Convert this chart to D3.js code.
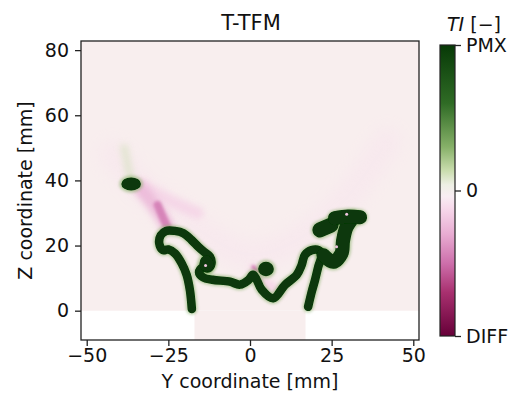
<!DOCTYPE html>
<html lang="en">
<head>
<meta charset="utf-8">
<title>T-TFM</title>
<script src="https://cdn.jsdelivr.net/npm/d3@7"></script>
<style>
body { margin: 0; background: #fff; }
text { font-family: "DejaVu Sans", sans-serif; fill: #111; }
</style>
</head>
<body>
<svg id="chart" width="512" height="395"></svg>
<script>
// axis ranges (mm)
var yDomain = [-51.75, 51.75],
    zDomain = [-9, 82.8];
var yTicks = [-50, -25, 0, 25, 50],
    zTicks = [0, 20, 40, 60, 80];
var cbTicks = [1, 0, -1],
    cbLabels = ["PMX", "0", "DIFF"];

// colormap stops, t from DIFF (0) to PMX (1)
var cmapT = [0, 0.15, 0.25, 0.35, 0.44, 0.48, 0.52, 0.57, 0.65, 0.8, 1];
var cmapC = ["#660038", "#a8306f", "#cd6fab", "#e8acd2", "#f7d9eb", "#f8edf3",
             "#edefe4", "#c8dcac", "#86b068", "#2f6b25", "#073907"];

var channelHalf = 17;   // |Y| < 17 mm continues below Z = 0

// green strands, [Y, Z] in mm
var strandMain = [[-17.8,0.5],[-18.4,6.3],[-19.4,11.0],[-20.9,14.5],[-23.0,17.6],[-25.0,18.8],
  [-26.7,18.6],[-27.8,20.7],[-27.3,23.2],[-25.7,24.5],[-23.0,24.5],[-20.4,23.8],[-17.9,21.7],
  [-15.8,19.6],[-14.0,18.0],[-12.3,16.6],[-11.8,14.5],[-12.8,13.0],[-14.6,13.2],[-15.6,11.8],
  [-14.3,10.2],[-11.5,9.5],[-6.1,8.9],[-3.1,8.0],[-0.5,9.4],[0.9,11.0],[2.0,9.6],[3.6,6.4],
  [7.1,3.8],[10.7,7.9],[14.3,11.0],[15.8,14.0],[16.8,17.1],[18.9,18.6],[20.9,18.6],
  [21.9,17.2],[20.9,13.5],[19.9,9.4],[18.9,5.8],[17.8,1.2]];
var strandColumn = [[22.5,17.0],[25.5,15.0],[28.0,17.5],[28.5,21.5],[29.5,25.5],[31.5,28.5]];
var strandLobe = [[21.4,24.8],[24.8,26.3]];
var strandTop = [[26.0,28.4],[30.0,28.9],[33.7,28.7]];

// blobs: [Y, Z, halfwidth Y, halfwidth Z]
var blobs = [[-36.4, 38.9, 3.0, 2.0], [4.9, 12.8, 2.4, 2.2], [-13.3, 14.4, 2.2, 2.6]];

// negative TI patches: [Y, Z] in mm
var pinkWide = [[-33.7,37.6],[-29.5,32.5],[-26.8,28.5],[-25.3,25.8]];
var pinkCore = [[-28.3,32.5],[-26.6,28.5],[-25.4,25.9]];
var pinkSmear = [[-33.7,39],[-25,34],[-16,30]];
var pinkCenter = [[1.2,12.5],[3.5,9.5],[6,7.5],[9,5.8]];
var pinkDot = [[1.0,13.4],[2.2,12.2]];
var pinkSpecks = [[29.6,29.6],[26.5,19.6],[-13.6,13.9]];
var pinkBand = [[-42,48],[-31,36],[-16,25],[0,17],[15,22],[29,34],[42,52]];
var greenPlume = [[-36.5,40],[-37.5,45],[-38.5,50]];

var margin = {left: 81, right: 419, top: 41, bottom: 340};
var svg = d3.select("#chart");

var x = d3.scaleLinear().domain(yDomain).range([margin.left, margin.right]);
var y = d3.scaleLinear().domain(zDomain).range([margin.bottom, margin.top]);
var color = d3.scaleLinear().domain(cmapT.map(function(t){ return t * 2 - 1; })).range(cmapC);
var mm = (margin.right - margin.left) / (yDomain[1] - yDomain[0]);

var defs = svg.append("defs");
defs.append("clipPath").attr("id", "plotclip").append("rect")
  .attr("x", margin.left).attr("y", margin.top)
  .attr("width", margin.right - margin.left).attr("height", margin.bottom - margin.top);
[["bS", 0.7], ["bM", 1.6], ["bL", 3], ["bXL", 8]].forEach(function(f) {
  defs.append("filter").attr("id", f[0]).attr("filterUnits", "userSpaceOnUse")
    .attr("x", 0).attr("y", 0).attr("width", 512).attr("height", 395)
    .append("feGaussianBlur").attr("stdDeviation", f[1]);
});

var plot = svg.append("g").attr("clip-path", "url(#plotclip)");

// field background
plot.append("rect").attr("x", margin.left).attr("y", margin.top)
  .attr("width", margin.right - margin.left).attr("height", margin.bottom - margin.top)
  .attr("fill", "#fff");
plot.append("rect").attr("x", x(yDomain[0])).attr("y", y(zDomain[1]))
  .attr("width", x(yDomain[1]) - x(yDomain[0])).attr("height", y(0) - y(zDomain[1]))
  .attr("fill", "#f8eeee");
plot.append("rect").attr("x", x(-channelHalf)).attr("y", y(0))
  .attr("width", x(channelHalf) - x(-channelHalf)).attr("height", y(zDomain[0]) - y(0))
  .attr("fill", "#f8eeee");

var line = d3.line().x(function(d){ return x(d[0]); }).y(function(d){ return y(d[1]); })
  .curve(d3.curveCatmullRom.alpha(0.5));

function stroke(pts, w, col, filt, op) {
  plot.append("path").attr("d", line(pts)).attr("fill", "none")
    .attr("stroke", col).attr("stroke-width", w)
    .attr("stroke-linecap", "round").attr("stroke-linejoin", "round")
    .attr("opacity", op == null ? 1 : op)
    .attr("filter", filt ? "url(#" + filt + ")" : null);
}

// faint pink band above the flame
stroke(pinkBand, 28, color(-0.1), "bXL", 0.3);
stroke(greenPlume, 8, color(0.12), "bL", 0.5);
// pink patches
stroke(pinkSmear, 12, color(-0.16), "bL", 0.7);
stroke(pinkWide, 14, color(-0.25), "bL", 0.9);
stroke(pinkCore, 8, color(-0.45), "bM", 0.9);
stroke(pinkCenter, 10, color(-0.16), "bL", 0.8);
stroke(pinkDot, 4, color(-0.45), "bM");

// green halos
var halo = color(0.3);
[strandMain, strandColumn, strandLobe, strandTop].forEach(function(s, i) {
  stroke(s, [11, 17, 18, 16][i], halo, "bM", 0.6);
});
blobs.forEach(function(b) {
  plot.append("ellipse").attr("cx", x(b[0])).attr("cy", y(b[1]))
    .attr("rx", b[2] * mm + 2).attr("ry", b[3] * mm + 2)
    .attr("fill", halo).attr("opacity", 0.6).attr("filter", "url(#bM)");
});

// dark strands
var dark = color(1);
stroke(strandMain, 8.5, dark, "bS");
stroke(strandColumn, 14, dark, "bS");
stroke(strandLobe, 15, dark, "bS");
stroke(strandTop, 14, dark, "bS");
blobs.forEach(function(b) {
  plot.append("ellipse").attr("cx", x(b[0])).attr("cy", y(b[1]))
    .attr("rx", b[2] * mm).attr("ry", b[3] * mm)
    .attr("fill", dark).attr("filter", "url(#bS)");
});
plot.selectAll("circle.speck").data(pinkSpecks).enter().append("circle")
  .attr("class", "speck").attr("cx", function(d){ return x(d[0]); })
  .attr("cy", function(d){ return y(d[1]); }).attr("r", 1.5)
  .attr("fill", color(-0.2)).attr("filter", "url(#bS)");

// axes
var fs = "19px";
var xAxis = svg.append("g").attr("transform", "translate(0," + margin.bottom + ")")
  .call(d3.axisBottom(x).tickValues(yTicks).tickSize(6).tickPadding(3)
    .tickFormat(function(d){ return d < 0 ? "\u2212" + Math.abs(d) : d; }));
var zAxis = svg.append("g").attr("transform", "translate(" + margin.left + ",0)")
  .call(d3.axisLeft(y).tickValues(zTicks).tickSize(6).tickPadding(6));
[xAxis, zAxis].forEach(function(a) {
  a.select(".domain").remove();
  a.selectAll(".tick line").attr("stroke", "#222").attr("stroke-width", 1.3);
  a.selectAll(".tick text").attr("font-size", fs).attr("fill", "#111")
    .attr("font-family", "DejaVu Sans");
});

svg.append("rect").attr("x", margin.left).attr("y", margin.top)
  .attr("width", margin.right - margin.left).attr("height", margin.bottom - margin.top)
  .attr("fill", "none").attr("stroke", "#222").attr("stroke-width", 1.3);

svg.append("text").attr("x", (margin.left + margin.right) / 2).attr("y", 388)
  .attr("text-anchor", "middle").attr("font-size", fs).text("Y coordinate [mm]");
svg.append("text").attr("transform", "translate(31.5," + (margin.top + margin.bottom) / 2 + ") rotate(-90)")
  .attr("text-anchor", "middle").attr("font-size", fs).text("Z coordinate [mm]");
svg.append("text").attr("x", 251).attr("y", 30)
  .attr("text-anchor", "middle").attr("font-size", "21px").text("T-TFM");

// colorbar
var cb = {x: 440, w: 15, top: 45, bottom: 336};
var cbScale = d3.scaleLinear().domain([-1, 1]).range([cb.bottom, cb.top]);
var grad = defs.append("linearGradient").attr("id", "cbgrad")
  .attr("x1", 0).attr("y1", 1).attr("x2", 0).attr("y2", 0);
cmapT.forEach(function(t, i) {
  grad.append("stop").attr("offset", t).attr("stop-color", cmapC[i]);
});
svg.append("rect").attr("x", cb.x).attr("y", cb.top).attr("width", cb.w)
  .attr("height", cb.bottom - cb.top).attr("fill", "url(#cbgrad)")
  .attr("stroke", "#222").attr("stroke-width", 1.2);
var cbAxis = svg.append("g").attr("transform", "translate(" + (cb.x + cb.w) + ",0)")
  .call(d3.axisRight(cbScale).tickValues(cbTicks).tickSize(6).tickPadding(5)
    .tickFormat(function(d, i){ return cbLabels[i]; }));
cbAxis.select(".domain").remove();
cbAxis.selectAll(".tick line").attr("stroke", "#222").attr("stroke-width", 1.3);
cbAxis.selectAll(".tick text").attr("font-size", fs).attr("fill", "#111")
  .attr("font-family", "DejaVu Sans");

var cbt = svg.append("text").attr("x", 447).attr("y", 31).attr("font-size", fs);
cbt.append("tspan").attr("font-style", "italic").text("TI");
cbt.append("tspan").text(" [\u2212]");
</script>
</body>
</html>
